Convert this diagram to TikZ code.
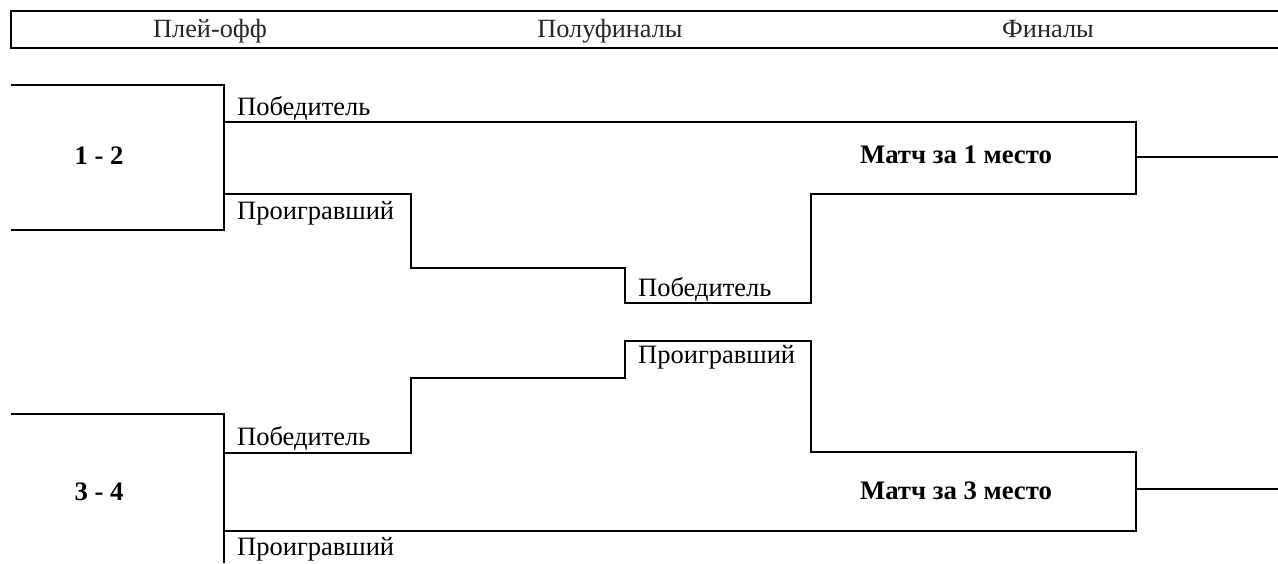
\documentclass[tikz,border=0pt]{standalone}
\usepackage{fontspec}
\setmainfont{Liberation Serif}
\begin{document}
\begin{tikzpicture}[x=1pt,y=-1pt,
  ln/.style={line width=2pt,line join=miter},
  lbl/.style={anchor=base west,inner sep=0pt,font=\fontsize{26.5}{30}\selectfont},
  hdr/.style={anchor=base,inner sep=0pt,font=\fontsize{26.3}{30}\selectfont,text=black!85},
  bld/.style={anchor=base,inner sep=0pt,font=\fontsize{26.7}{30}\selectfont\bfseries}]
\useasboundingbox (0,0) rectangle (1278,563);
\begin{scope}
\clip (0,0) rectangle (1278,563);
\draw[ln] (11,11) rectangle (1300,48);
\end{scope}
\node[hdr] (h1) at (210,37) {Плей-офф};
\node[hdr] (h2) at (610,37) {Полуфиналы};
\node[hdr] (h3) at (1048,37) {Финалы};
% upper bracket
\coordinate (a1) at (11,85);
\coordinate (a2) at (224,85);
\coordinate (a3) at (224,230);
\coordinate (a4) at (11,230);
\draw[ln] (a1) -- (a2) -- (a3) -- (a4);
\node[bld] (m12) at (99,164) {1 - 2};
\coordinate (w1) at (224,122);
\coordinate (f1) at (1136,122);
\coordinate (f1b) at (1136,194);
\coordinate (s1) at (811,194);
\coordinate (s2) at (811,303);
\coordinate (s3) at (625,303);
\coordinate (s4) at (625,268);
\coordinate (s5) at (411,268);
\coordinate (s6) at (411,194);
\coordinate (l1) at (224,194);
\draw[ln] (w1) -- (f1) -- (f1b) -- (s1) -- (s2) -- (s3) -- (s4) -- (s5) -- (s6) -- (l1);
\coordinate (o1a) at (1136,157);
\coordinate (o1b) at (1278,157);
\draw[ln] (o1a) -- (o1b);
\node[lbl] (t1) at (237,115) {Победитель};
\node[lbl] (t2) at (237,219) {Проигравший};
\node[lbl] (t3) at (638,296) {Победитель};
\node[bld] (fin1) at (956,163) {Матч за 1 место};
% lower bracket
\coordinate (b1) at (11,414);
\coordinate (b2) at (224,414);
\coordinate (b3) at (224,563);
\draw[ln] (b1) -- (b2) -- (b3);
\node[bld] (m34) at (99,500) {3 - 4};
\coordinate (w2) at (224,453);
\coordinate (u1) at (411,453);
\coordinate (u2) at (411,378);
\coordinate (u3) at (625,378);
\coordinate (u4) at (625,341);
\coordinate (u5) at (811,341);
\coordinate (u6) at (811,452);
\coordinate (f2) at (1136,452);
\coordinate (f2b) at (1136,531);
\coordinate (l2) at (224,531);
\draw[ln] (w2) -- (u1) -- (u2) -- (u3) -- (u4) -- (u5) -- (u6) -- (f2) -- (f2b) -- (l2);
\coordinate (o2a) at (1136,489);
\coordinate (o2b) at (1278,489);
\draw[ln] (o2a) -- (o2b);
\node[lbl] (t4) at (638,363) {Проигравший};
\node[lbl] (t5) at (237,445) {Победитель};
\node[lbl] (t6) at (237,555) {Проигравший};
\node[bld] (fin3) at (956,499) {Матч за 3 место};
\end{tikzpicture}
\end{document}
